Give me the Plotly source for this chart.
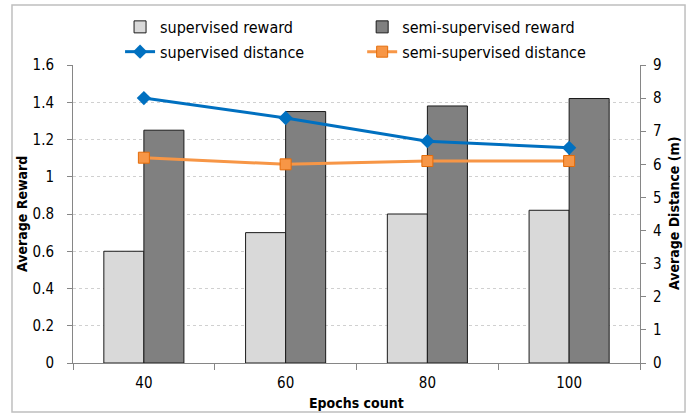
import plotly.graph_objects as go

epochs = ["40", "60", "80", "100"]
sup_reward = [0.60, 0.70, 0.80, 0.82]
semi_reward = [1.25, 1.35, 1.38, 1.42]
sup_distance = [8.0, 7.4, 6.7, 6.5]
semi_distance = [6.2, 6.0, 6.1, 6.1]

FONT = "Liberation Sans Narrow, DejaVu Sans Condensed, Arial Narrow, sans-serif"
AXIS = "#868686"

fig = go.Figure()
fig.add_trace(go.Bar(x=epochs, y=sup_reward, name="supervised reward",
                     marker=dict(color="#D9D9D9", line=dict(color="#1a1a1a", width=1)),
                     legend="legend", legendgroup="a"))
fig.add_trace(go.Bar(x=epochs, y=semi_reward, name="semi-supervised reward",
                     marker=dict(color="#808080", line=dict(color="#1a1a1a", width=1)),
                     legend="legend2", legendgroup="c"))
fig.add_trace(go.Scatter(x=epochs, y=sup_distance, name="supervised distance", yaxis="y2",
                         mode="lines+markers", line=dict(color="#0070C0", width=3),
                         marker=dict(symbol="diamond", size=11, color="#0070C0"),
                         legend="legend", legendgroup="b"))
fig.add_trace(go.Scatter(x=epochs, y=semi_distance, name="semi-supervised distance", yaxis="y2",
                         mode="lines+markers", line=dict(color="#F79646", width=3),
                         marker=dict(symbol="square", size=11, color="#F79646",
                                     line=dict(color="#E46C0A", width=1)),
                         legend="legend2", legendgroup="d"))

title_font = dict(family=FONT, size=14, color="#000000")

fig.update_layout(
    width=693, height=415,
    margin=dict(l=73, r=53, t=65, b=52, autoexpand=False),
    paper_bgcolor="white", plot_bgcolor="white",
    font=dict(family=FONT, size=15, color="#000000"),
    barmode="group", bargap=0.435, bargroupgap=0,
    xaxis=dict(type="category", showline=True, linecolor=AXIS, linewidth=1,
               ticks="outside", tickson="boundaries", ticklen=6, tickcolor=AXIS,
               ticklabelstandoff=6, showgrid=False, automargin=False),
    yaxis=dict(range=[0, 1.6], dtick=0.2, showline=True, linecolor=AXIS, linewidth=1,
               ticks="outside", ticklen=5, tickcolor=AXIS, ticklabelstandoff=10,
               showgrid=True, gridcolor="#D0D0D0", griddash="dot", gridwidth=1,
               zeroline=False, automargin=False),
    yaxis2=dict(range=[0, 9], dtick=1, overlaying="y", side="right", showline=True,
                linecolor=AXIS, linewidth=1, ticks="outside", ticklen=5, tickcolor=AXIS,
                showgrid=False, zeroline=False, ticklabelstandoff=4, automargin=False),
    legend=dict(x=0.083, y=0.976, xanchor="left", yanchor="top", yref="container",
                orientation="v", traceorder="grouped", tracegroupgap=1,
                bgcolor="rgba(0,0,0,0)", font=dict(size=16)),
    legend2=dict(x=0.51, y=0.976, xanchor="left", yanchor="top", yref="container",
                 orientation="v", traceorder="grouped", tracegroupgap=1,
                 bgcolor="rgba(0,0,0,0)", font=dict(size=16)),
    annotations=[
        dict(text="<b>Average Reward</b>", xref="paper", yref="paper", x=-0.09, y=0.5,
             xanchor="center", yanchor="middle", textangle=-90, showarrow=False,
             font=title_font),
        dict(text="<b>Average Distance (m)</b>", xref="paper", yref="paper", x=1.06, y=0.5,
             xanchor="center", yanchor="middle", textangle=-90, showarrow=False,
             font=title_font),
        dict(text="<b>Epochs count</b>", xref="paper", yref="paper", x=0.5, y=-0.134,
             xanchor="center", yanchor="middle", showarrow=False, font=title_font),
    ],
    shapes=[dict(type="rect", xref="paper", yref="paper",
                 x0=-0.1076, x1=1.0794, y0=-0.1644, y1=1.2013,
                 line=dict(color="#BFBFBF", width=1.5), fillcolor="rgba(0,0,0,0)",
                 layer="above")],
)

fig.write_html("out.html", config={"displayModeBar": False},
               post_script="document.body.style.margin='0';document.body.style.overflow='hidden';")
